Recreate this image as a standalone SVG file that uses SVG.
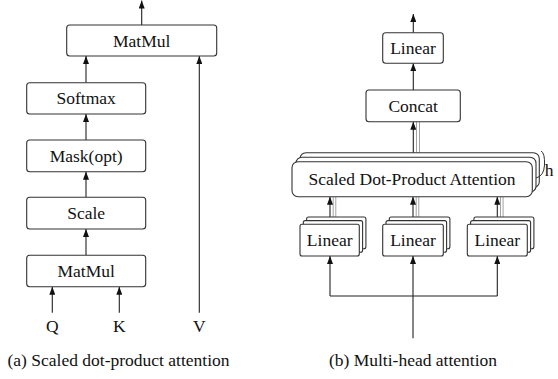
<svg xmlns="http://www.w3.org/2000/svg" width="558" height="379" viewBox="0 0 558 379">
<style>
.box{fill:#fff;stroke:#333;stroke-width:1.1}
.t{font-family:'Liberation Serif','Times New Roman',Times,serif;font-size:17.5px;fill:#111;text-anchor:middle}
.c{fill:none;stroke:#222;stroke-width:1.1}
.g{fill:none;stroke:#999;stroke-width:0.9}
</style>
<defs>
<marker id="ah" markerUnits="userSpaceOnUse" markerWidth="8" markerHeight="6" refX="8" refY="3" orient="auto">
<path d="M0,0 L8,3 L0,6 z" fill="#111"/>
</marker>
</defs>
<rect width="558" height="379" fill="#fff"/>
<g id="connectors">
<line class="c" x1="141.7" y1="25" x2="141.7" y2="0.5" marker-end="url(#ah)"/>
<line class="c" x1="86" y1="82.7" x2="86" y2="56" marker-end="url(#ah)"/>
<line class="c" x1="86" y1="140" x2="86" y2="114" marker-end="url(#ah)"/>
<line class="c" x1="86" y1="197.3" x2="86" y2="171.7" marker-end="url(#ah)"/>
<line class="c" x1="86" y1="255.3" x2="86" y2="229" marker-end="url(#ah)"/>
<line class="c" x1="52.3" y1="312.7" x2="52.3" y2="286.7" marker-end="url(#ah)"/>
<line class="c" x1="119.3" y1="312.7" x2="119.3" y2="286.7" marker-end="url(#ah)"/>
<line class="c" x1="199.3" y1="312.7" x2="199.3" y2="56" marker-end="url(#ah)"/>
<line class="c" x1="413.3" y1="32.7" x2="413.3" y2="14" marker-end="url(#ah)"/>
<line class="c" x1="413.3" y1="90" x2="413.3" y2="63.3" marker-end="url(#ah)"/>
<line class="g" x1="416.5" y1="152.7" x2="416.5" y2="121.7"/>
<line class="g" x1="419.5" y1="152.7" x2="419.5" y2="121.7"/>
<line class="c" x1="413.3" y1="161.7" x2="413.3" y2="121.7" marker-end="url(#ah)"/>
<line class="g" x1="333.2" y1="217" x2="333.2" y2="196.7"/>
<line class="g" x1="335.8" y1="217" x2="335.8" y2="196.7"/>
<line class="c" x1="330" y1="224.3" x2="330" y2="196.7" marker-end="url(#ah)"/>
<line class="g" x1="416.2" y1="217" x2="416.2" y2="196.7"/>
<line class="g" x1="418.8" y1="217" x2="418.8" y2="196.7"/>
<line class="c" x1="413" y1="224.3" x2="413" y2="196.7" marker-end="url(#ah)"/>
<line class="g" x1="500.5" y1="217" x2="500.5" y2="196.7"/>
<line class="g" x1="503.1" y1="217" x2="503.1" y2="196.7"/>
<line class="c" x1="497.3" y1="224.3" x2="497.3" y2="196.7" marker-end="url(#ah)"/>
<polyline class="c" points="330,296 497.3,296"/>
<line class="c" x1="330" y1="296" x2="330" y2="256" marker-end="url(#ah)"/>
<line class="c" x1="497.3" y1="296" x2="497.3" y2="256" marker-end="url(#ah)"/>
<line class="c" x1="413" y1="338.3" x2="413" y2="256" marker-end="url(#ah)"/>
</g>
<g id="matmul-top"><rect class="box" x="66.7" y="25" width="150" height="31" rx="3"/><text class="t" x="141.7" y="46.5">MatMul</text></g>
<g id="softmax"><rect class="box" x="26.7" y="82.7" width="119" height="31.3" rx="3"/><text class="t" x="86.2" y="104">Softmax</text></g>
<g id="mask"><rect class="box" x="26.7" y="140" width="119" height="31.7" rx="3"/><text class="t" x="86.2" y="161.5">Mask(opt)</text></g>
<g id="scale"><rect class="box" x="26.7" y="197.3" width="119" height="31.7" rx="3"/><text class="t" x="86.2" y="219">Scale</text></g>
<g id="matmul-bottom"><rect class="box" x="26.7" y="255.3" width="119" height="31.4" rx="3"/><text class="t" x="86.2" y="277">MatMul</text></g>
<g id="label-q"><text class="t" x="52.3" y="331.5">Q</text></g>
<g id="label-k"><text class="t" x="119.3" y="331.5">K</text></g>
<g id="label-v"><text class="t" x="199.3" y="331.5">V</text></g>
<g id="caption-a"><text class="t" x="118.5" y="365.5">(a) Scaled dot-product attention</text></g>
<g id="linear-top"><rect class="box" x="382.7" y="32.7" width="60.6" height="30.6" rx="3"/><text class="t" x="413" y="54">Linear</text></g>
<g id="concat"><rect class="box" x="366" y="90" width="94.3" height="31.7" rx="3"/><text class="t" x="413.2" y="111.5">Concat</text></g>
<g id="sdpa">
<rect class="box" x="300" y="152.7" width="239.3" height="35" rx="6"/>
<rect class="box" x="296" y="157.2" width="240" height="35" rx="6"/>
<rect class="box" x="292" y="161.7" width="240.3" height="35" rx="6"/>
<text class="t" x="412" y="185">Scaled Dot-Product Attention</text>
<path d="M541,151 Q545,153 544.5,165 Q544,176 536,178" fill="none" stroke="#333" stroke-width="1"/>
<text class="t" x="549" y="175.5">h</text>
</g>
<g id="linear-q">
<rect class="box" x="306.6" y="217" width="59.3" height="31.7" rx="2"/>
<rect class="box" x="303.3" y="220.6" width="59.3" height="31.7" rx="2"/>
<rect class="box" x="300" y="224.3" width="59.3" height="31.7" rx="2"/>
<text class="t" x="329.7" y="246">Linear</text>
</g>
<g id="linear-k">
<rect class="box" x="389.3" y="217" width="60.6" height="31.7" rx="2"/>
<rect class="box" x="386" y="220.6" width="60.6" height="31.7" rx="2"/>
<rect class="box" x="382.7" y="224.3" width="60.6" height="31.7" rx="2"/>
<text class="t" x="413" y="246">Linear</text>
</g>
<g id="linear-v">
<rect class="box" x="473.9" y="217" width="60" height="31.7" rx="2"/>
<rect class="box" x="470.6" y="220.6" width="60" height="31.7" rx="2"/>
<rect class="box" x="467.3" y="224.3" width="60" height="31.7" rx="2"/>
<text class="t" x="497.3" y="246">Linear</text>
</g>
<g id="caption-b"><text class="t" x="413" y="365.5">(b) Multi-head attention</text></g>
</svg>
